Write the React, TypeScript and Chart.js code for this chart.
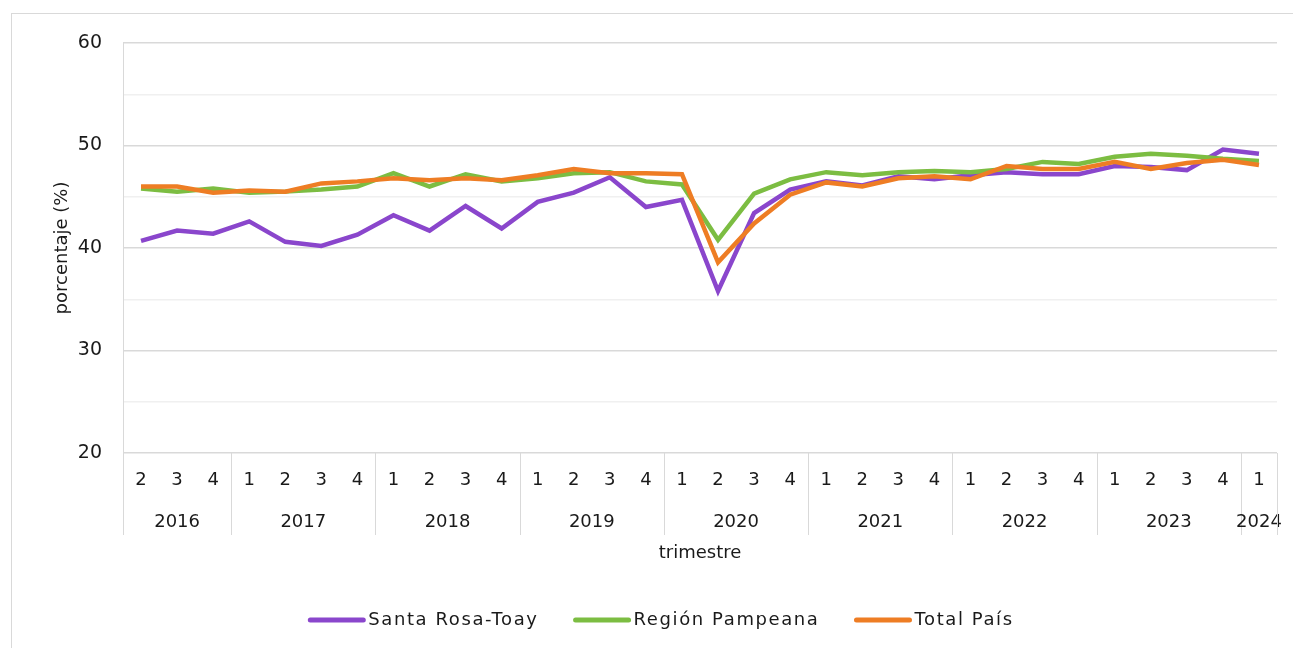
import React, { useEffect, useRef } from "react";
import { Chart, registerables } from "chart.js";

Chart.register(...registerables);

const quarterLabels = [
  "2", "3", "4",
  "1", "2", "3", "4",
  "1", "2", "3", "4",
  "1", "2", "3", "4",
  "1", "2", "3", "4",
  "1", "2", "3", "4",
  "1", "2", "3", "4",
  "1", "2", "3", "4",
  "1",
];
const yearLabels = ["2016", "2017", "2018", "2019", "2020", "2021", "2022", "2023", "2024"];
const quartersPerYear = [3, 4, 4, 4, 4, 4, 4, 4, 1];

const santaRosa = [
  40.7, 41.7, 41.4,
  42.6, 40.6, 40.2, 41.3,
  43.2, 41.7, 44.1, 41.9,
  44.5, 45.4, 46.9, 44.0,
  44.7, 35.8, 43.4, 45.7,
  46.5, 46.1, 47.0, 46.7,
  47.1, 47.4, 47.2, 47.2,
  48.0, 47.9, 47.6, 49.6,
  49.2,
];
const regionPampeana = [
  45.8, 45.5, 45.8,
  45.4, 45.5, 45.7, 46.0,
  47.3, 46.0, 47.2, 46.5,
  46.8, 47.3, 47.4, 46.5,
  46.2, 40.8, 45.3, 46.7,
  47.4, 47.1, 47.4, 47.5,
  47.4, 47.7, 48.4, 48.2,
  48.9, 49.2, 49.0, 48.7,
  48.5,
];
const totalPais = [
  46.0, 46.0, 45.4,
  45.6, 45.5, 46.3, 46.5,
  46.8, 46.6, 46.8, 46.6,
  47.1, 47.7, 47.3, 47.3,
  47.2, 38.6, 42.4, 45.2,
  46.4, 46.0, 46.8, 47.0,
  46.7, 48.0, 47.7, 47.7,
  48.4, 47.7, 48.3, 48.6,
  48.1,
];

const seriesNames = ["Santa Rosa-Toay", "Región Pampeana", "Total País"];
const seriesColors = ["#8a46cc", "#7cbd42", "#ee7d24"];

const FONT = "'DejaVu Sans', sans-serif";
const GRID = "#d9d9d9";

const overlayPlugin = {
  id: "overlay",
  afterDraw(chart: any) {
    const ctx = chart.ctx;
    const { left, right, top, bottom } = chart.chartArea;
    const x = chart.scales.x;
    const n = quarterLabels.length;
    const step = (right - left) / n;
    const axisBottom = bottom + 82;
    ctx.save();
    ctx.strokeStyle = GRID;
    ctx.lineWidth = 1;
    ctx.beginPath();
    ctx.moveTo(left + 0.5, top);
    ctx.lineTo(left + 0.5, axisBottom);
    ctx.stroke();
    ctx.fillStyle = "#1a1a1a";
    ctx.font = `18px ${FONT}`;
    ctx.textAlign = "center";
    ctx.textBaseline = "middle";
    quarterLabels.forEach((q, i) => {
      ctx.fillText(q, x.getPixelForValue(i), bottom + 27);
    });
    let start = 0;
    quartersPerYear.forEach((cnt, gi) => {
      const x0 = left + start * step;
      const x1 = left + (start + cnt) * step;
      ctx.fillText(yearLabels[gi], (x0 + x1) / 2, bottom + 69);
      const bx = Math.round(x1) + 0.5;
      ctx.beginPath();
      ctx.moveTo(bx, bottom);
      ctx.lineTo(bx, axisBottom);
      ctx.stroke();
      start += cnt;
    });
    ctx.fillText("trimestre", (left + right) / 2, 553);
    ctx.save();
    ctx.translate(62, (top + bottom) / 2);
    ctx.rotate(-Math.PI / 2);
    ctx.fillText("porcentaje (%)", 0, 0);
    ctx.restore();
    const legendY = 620;
    ctx.textAlign = "left";
    try {
      (ctx as any).letterSpacing = "1.6px";
    } catch (e) {}
    const items = chart.data.datasets.map((d: any) => ({ label: d.label, color: d.borderColor }));
    const lineLen = 53;
    const gap = 5;
    const itemGap = 37;
    const widths = items.map((it: any) => lineLen + gap + ctx.measureText(it.label).width);
    const total = widths.reduce((a: number, b: number) => a + b, 0) + itemGap * (items.length - 1);
    let cx = 662 - total / 2;
    items.forEach((it: any, i: number) => {
      ctx.strokeStyle = it.color;
      ctx.lineWidth = 5;
      ctx.lineCap = "round";
      ctx.beginPath();
      ctx.moveTo(cx, legendY);
      ctx.lineTo(cx + lineLen, legendY);
      ctx.stroke();
      ctx.fillText(it.label, cx + lineLen + gap, legendY);
      cx += widths[i] + itemGap;
    });
    ctx.restore();
  },
};

export default function App() {
  const ref = useRef<HTMLCanvasElement | null>(null);
  useEffect(() => {
    if (!ref.current) return;
    const datasets = [santaRosa, regionPampeana, totalPais].map((data, i) => ({
      label: seriesNames[i],
      data,
      borderColor: seriesColors[i],
      backgroundColor: seriesColors[i],
      borderWidth: 4.5,
      pointRadius: 0,
      tension: 0,
      order: 2 - i,
    }));
    const chart = new Chart(ref.current, {
      type: "line",
      data: { labels: quarterLabels.map((q, i) => `${i}-${q}`), datasets },
      options: {
        animation: false,
        responsive: false,
        layout: { padding: { left: 0, top: 43, right: 16, bottom: 0 } },
        plugins: { legend: { display: false }, tooltip: { enabled: false } },
        scales: {
          x: {
            type: "category",
            offset: true,
            grid: { display: false, drawTicks: false },
            border: { display: false },
            ticks: { display: false },
            afterFit: (s: any) => {
              s.height = 195;
            },
          },
          y: {
            min: 20,
            max: 60,
            grid: {
              drawTicks: false,
              color: (c: any) => (c.tick && c.tick.value % 10 === 0 ? GRID : "#f0f0f0"),
              lineWidth: 1.5,
            },
            border: { display: false },
            ticks: {
              stepSize: 5,
              padding: 21,
              color: "#1a1a1a",
              font: { size: 19, family: FONT },
              callback: (v: any) => (Number(v) % 10 === 0 ? String(v) : ""),
            },
            afterFit: (s: any) => {
              s.width = 123;
            },
          },
        },
      },
      plugins: [overlayPlugin],
    });
    return () => chart.destroy();
  }, []);
  return (
    <div style={{ position: "fixed", left: 0, top: 0, width: 1293, height: 648, background: "#fff", overflow: "hidden" }}>
      <div
        style={{
          position: "absolute",
          left: 11,
          top: 13,
          width: 1300,
          height: 700,
          border: "1px solid #d9d9d9",
          boxSizing: "border-box",
        }}
      />
      <canvas ref={ref} width={1293} height={648} style={{ position: "absolute", left: 0, top: 0 }} />
    </div>
  );
}
